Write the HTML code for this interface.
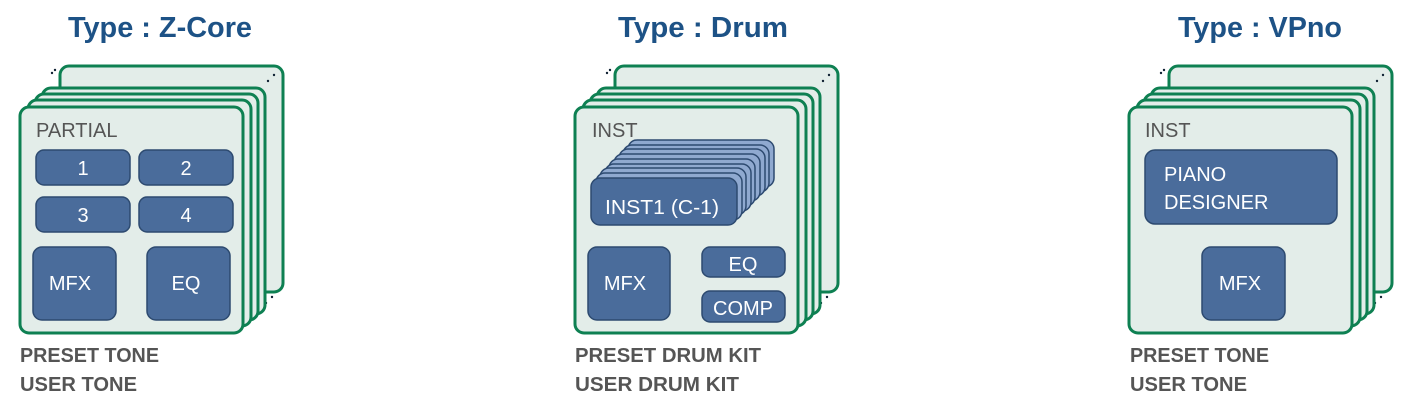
<!DOCTYPE html>
<html><head><meta charset="utf-8"><style>
html,body{margin:0;padding:0;background:#fff}
svg{display:block}
text{font-family:"Liberation Sans",sans-serif}
.t{font-weight:bold;fill:#1d5286;font-size:29px}
.b{font-weight:bold;fill:#555;font-size:20px}
.lab{fill:#555;font-size:20px}
.w{fill:#fff;font-size:20px}
.card{fill:#e3ede9;stroke:#0e8052;stroke-width:3}
.box{fill:#4a6c9b;stroke:#2d4a70;stroke-width:1.5}
.lb{fill:#8fa9d0;stroke:#2d4a70;stroke-width:1.5}
</style></head><body>
<svg width="1416" height="413" viewBox="0 0 1416 413" xmlns="http://www.w3.org/2000/svg">
<defs>
<g id="stack">
<rect class="card" x="40" y="-41" width="223" height="226" rx="9"/>
<circle cx="32" cy="-34" r="1.2" fill="#123"/><circle cx="35" cy="-37" r="1.2" fill="#123"/>
<circle cx="254" cy="-32" r="1.2" fill="#123"/><circle cx="248" cy="-26" r="1.2" fill="#123"/>
<circle cx="252" cy="190" r="1.2" fill="#123"/><circle cx="246" cy="196" r="1.2" fill="#123"/>
<rect class="card" x="22" y="-19" width="223" height="226" rx="9"/>
<rect class="card" x="15" y="-13" width="223" height="226" rx="9"/>
<rect class="card" x="8" y="-7" width="223" height="226" rx="9"/>
<rect class="card" x="0" y="0" width="223" height="226" rx="9"/>
</g>
</defs>

<text class="t" x="160" y="37" text-anchor="middle" textLength="184" lengthAdjust="spacingAndGlyphs">Type : Z-Core</text>
<text class="t" x="703" y="37" text-anchor="middle" textLength="170" lengthAdjust="spacingAndGlyphs">Type : Drum</text>
<text class="t" x="1260" y="37" text-anchor="middle" textLength="164" lengthAdjust="spacingAndGlyphs">Type : VPno</text>

<!-- Z-Core -->
<use href="#stack" x="20" y="107"/>
<text class="lab" x="36" y="137">PARTIAL</text>
<rect class="box" x="36" y="150" width="94" height="35" rx="8"/><text class="w" x="83" y="175" text-anchor="middle">1</text>
<rect class="box" x="139" y="150" width="94" height="35" rx="8"/><text class="w" x="186" y="175" text-anchor="middle">2</text>
<rect class="box" x="36" y="197" width="94" height="35" rx="8"/><text class="w" x="83" y="222" text-anchor="middle">3</text>
<rect class="box" x="139" y="197" width="94" height="35" rx="8"/><text class="w" x="186" y="222" text-anchor="middle">4</text>
<rect class="box" x="33" y="247" width="83" height="73" rx="9"/><text class="w" x="70" y="290" text-anchor="middle">MFX</text>
<rect class="box" x="147" y="247" width="83" height="73" rx="9"/><text class="w" x="186" y="290" text-anchor="middle">EQ</text>
<text class="b" x="20" y="362" textLength="139" lengthAdjust="spacingAndGlyphs">PRESET TONE</text>
<text class="b" x="20" y="391" textLength="117" lengthAdjust="spacingAndGlyphs">USER TONE</text>

<!-- Drum -->
<use href="#stack" x="575" y="107"/>
<text class="lab" x="592" y="137">INST</text>
<g>
<rect class="lb" x="628" y="140" width="146" height="47" rx="9"/>
<rect class="lb" x="623" y="145" width="146" height="47" rx="9"/>
<rect class="lb" x="619" y="149" width="146" height="47" rx="9"/>
<rect class="lb" x="614" y="154" width="146" height="47" rx="9"/>
<rect class="lb" x="609" y="159" width="146" height="47" rx="9"/>
<rect class="lb" x="605" y="164" width="146" height="47" rx="9"/>
<rect class="lb" x="600" y="168" width="146" height="47" rx="9"/>
<rect class="lb" x="596" y="173" width="146" height="47" rx="9"/>
<rect class="box" x="591" y="178" width="146" height="47" rx="9"/>
</g>
<text class="w" x="605" y="214" textLength="114" lengthAdjust="spacingAndGlyphs">INST1 (C-1)</text>
<rect class="box" x="588" y="247" width="82" height="73" rx="9"/><text class="w" x="625" y="290" text-anchor="middle">MFX</text>
<rect class="box" x="702" y="247" width="83" height="30" rx="8"/><text class="w" x="743" y="271" text-anchor="middle">EQ</text>
<rect class="box" x="702" y="291" width="83" height="31" rx="8"/><text class="w" x="743" y="315" text-anchor="middle">COMP</text>
<text class="b" x="575" y="362" textLength="186" lengthAdjust="spacingAndGlyphs">PRESET DRUM KIT</text>
<text class="b" x="575" y="391" textLength="164" lengthAdjust="spacingAndGlyphs">USER DRUM KIT</text>

<!-- VPno -->
<use href="#stack" x="1129" y="107"/>
<text class="lab" x="1145" y="137">INST</text>
<rect class="box" x="1145" y="150" width="192" height="74" rx="10"/>
<text class="w" x="1164" y="181">PIANO</text>
<text class="w" x="1164" y="209">DESIGNER</text>
<rect class="box" x="1202" y="247" width="83" height="73" rx="9"/><text class="w" x="1240" y="290" text-anchor="middle">MFX</text>
<text class="b" x="1130" y="362" textLength="139" lengthAdjust="spacingAndGlyphs">PRESET TONE</text>
<text class="b" x="1130" y="391" textLength="117" lengthAdjust="spacingAndGlyphs">USER TONE</text>
</svg>
</body></html>
